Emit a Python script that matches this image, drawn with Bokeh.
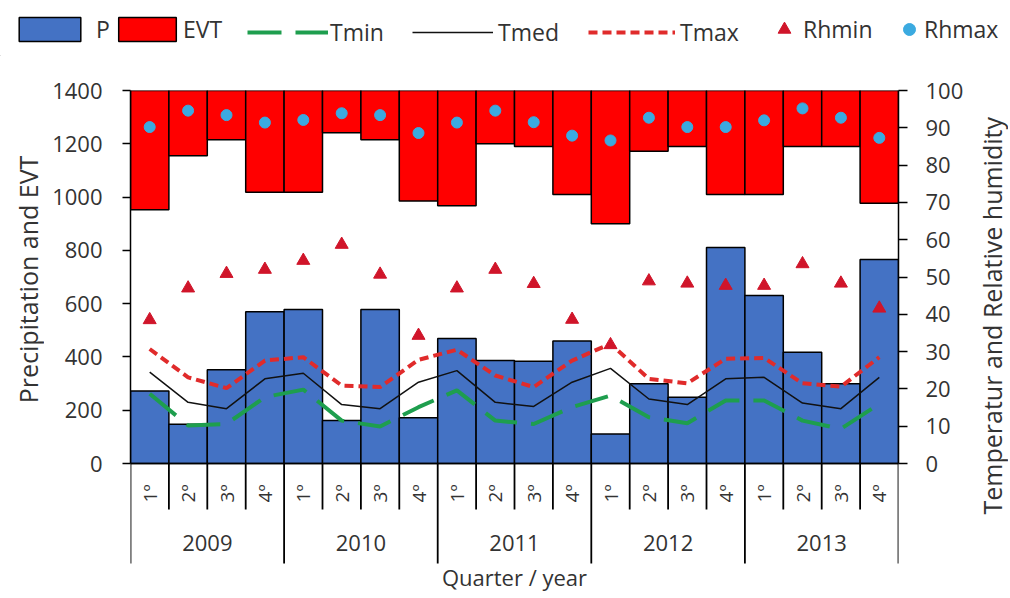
import math
from bokeh.plotting import figure
from bokeh.layouts import column, row
from bokeh.models import Range1d, LinearAxis, FixedTicker, Span, Legend, LegendItem
from bokeh.core.properties import value
from bokeh.embed import file_html
from bokeh.resources import INLINE

# ---------------- data ----------------
years = ["2009", "2010", "2011", "2012", "2013"]
quarters = ["1º", "2º", "3º", "4º"]

P = [272, 147, 352, 570, 578, 161, 578, 172, 469, 387,
     384, 460, 111, 299, 249, 811, 631, 418, 299, 766]
EVT = [448, 245, 185, 382, 382, 159, 185, 415, 433, 200,
       210, 390, 500, 228, 210, 390, 390, 210, 210, 423]
Tmin = [18.7, 10.2, 10.6, 17.8, 19.8, 11.5, 9.9, 15.1, 19.6, 11.5,
        10.6, 15.1, 18.2, 12.4, 10.8, 16.9, 16.9, 11.5, 9.3, 16.0]
Tmed = [24.5, 16.4, 14.7, 22.7, 24.2, 15.8, 14.7, 21.8, 24.9, 16.4,
        15.3, 21.8, 25.5, 17.3, 15.8, 22.7, 23.1, 16.2, 14.7, 23.1]
Tmax = [30.7, 23.1, 20.2, 27.6, 28.5, 20.9, 20.5, 27.8, 30.5, 23.6,
        20.5, 27.6, 32.1, 22.7, 21.5, 28.1, 28.3, 21.5, 20.6, 28.5]
Rhmin = [38.5, 47.0, 50.9, 52.0, 54.4, 58.7, 50.7, 34.3, 47.0, 52.0,
         48.2, 38.6, 31.8, 48.9, 48.3, 47.7, 47.7, 53.5, 48.3, 41.6]
Rhmax = [90.2, 94.6, 93.4, 91.4, 92.1, 93.9, 93.4, 88.6, 91.4, 94.6,
         91.5, 87.9, 86.6, 92.7, 90.2, 90.2, 92.0, 95.2, 92.7, 87.3]

left_ticks = list(range(0, 1401, 200))
right_ticks = list(range(0, 101, 10))

left_title = "Precipitation and EVT"
right_title = "Temperatur  and Relative humidity"
x_title = "Quarter / year"

# ---------------- styles ----------------
FONT = "Open Sans"
TXT = "#333333"
S_P = dict(fill_color="#4472C4", line_color="black", line_width=1.5)
S_EVT = dict(fill_color="#FF0000", line_color="black", line_width=1.5)
S_TMIN = dict(line_color="#1E9E4E", line_width=4, line_dash="34 14")
S_TMED = dict(line_color="#111111", line_width=1.5)
S_TMAX = dict(line_color="#E02B2B", line_width=4, line_dash="9 5")
S_RHMIN = dict(marker="triangle", fill_color="#D0152A", line_color="#D0152A")
S_RHMAX = dict(marker="circle", fill_color="#3BAAE0", line_color="#3BAAE0")

# ---------------- layout ----------------
W = 1008
H_TOP = 56
H_MAIN = 540
W_L, W_R = 44, 38                    # side strips holding the axis titles
W_P = W - W_L - W_R
BL, BR, BT = 130 - W_L, 72, 34
zero_px = 133                        # pixels from frame bottom up to the zero line
scale_px = 373                       # pixels between 0 and the top tick
top_l, top_r = left_ticks[-1], right_ticks[-1]
px_to_l = top_l / scale_px
ymin_l = -zero_px * px_to_l
ymin_r = -zero_px * top_r / scale_px

n = len(P)
xs = [i + 0.5 for i in range(n)]


def strip(w, h):
    f = figure(width=w, height=h, x_range=Range1d(0, w), y_range=Range1d(0, h),
               output_backend="svg", toolbar_location=None,
               x_axis_location=None, y_axis_location=None,
               min_border=0, min_border_left=0, min_border_right=0,
               min_border_top=0, min_border_bottom=0)
    f.outline_line_color = None
    f.grid.visible = False
    return f


# ---------------- main chart ----------------
p = figure(width=W_P, height=H_MAIN, x_range=Range1d(0, n), y_range=Range1d(ymin_l, top_l),
           output_backend="svg", toolbar_location=None, x_axis_location=None,
           min_border_left=BL, min_border_right=BR, min_border_top=BT, min_border_bottom=0)
p.extra_y_ranges = {"right": Range1d(ymin_r, top_r)}
p.outline_line_color = None
p.grid.visible = False


def style_axis(a, tick_out, standoff):
    a.major_label_text_font = FONT
    a.major_label_text_font_size = "22px"
    a.major_label_text_color = TXT
    a.major_label_standoff = standoff
    a.major_tick_out = tick_out
    a.major_tick_in = 0
    a.minor_tick_out = 0
    a.minor_tick_in = 0
    a.axis_line_color = "black"
    a.axis_line_width = 1.5
    a.major_tick_line_color = "black"
    a.major_tick_line_width = 1.5


ax = p.yaxis[0]
ax.ticker = FixedTicker(ticks=left_ticks)
ax.bounds = (0, top_l)
style_axis(ax, 8, 20)

axr = LinearAxis(y_range_name="right", ticker=FixedTicker(ticks=right_ticks), bounds=(0, top_r))
style_axis(axr, 9, 18)
p.add_layout(axr, "right")

# bars
p.vbar(x=xs, width=1, top=top_l, bottom=[top_l - e for e in EVT], **S_EVT)
p.vbar(x=xs, width=1, top=P, bottom=0, **S_P)

# category table below the axis
sep_x = list(range(n + 1))
q_depth = -46 * px_to_l
y_depth = -100 * px_to_l
sep_y1 = [y_depth if k % 4 == 0 else q_depth for k in sep_x]
p.segment(x0=sep_x, y0=[0] * len(sep_x), x1=sep_x, y1=sep_y1, line_color="black", line_width=1.8)
p.add_layout(Span(location=0, dimension="width", line_color="black", line_width=1.5))

p.text(x=xs, y=[-30 * px_to_l] * n, text=[quarters[i % 4] for i in range(n)],
       angle=math.pi / 2, text_align="center", text_baseline="middle",
       text_font=value(FONT), text_font_size="19px", text_color=TXT)
p.text(x=[4 * j + 2 for j in range(len(years))], y=[-79 * px_to_l] * len(years), text=years,
       text_align="center", text_baseline="middle",
       text_font=value(FONT), text_font_size="22px", text_color=TXT)
p.text(x=[n / 2], y=[-113 * px_to_l], text=[x_title],
       text_align="center", text_baseline="middle",
       text_font=value(FONT), text_font_size="22px", text_color=TXT)

# temperature lines and humidity markers
p.line(xs, Tmin, y_range_name="right", **S_TMIN)
p.line(xs, Tmed, y_range_name="right", **S_TMED)
p.line(xs, Tmax, y_range_name="right", **S_TMAX)
p.scatter(xs, Rhmin, y_range_name="right", size=13, **S_RHMIN)
p.scatter(xs, Rhmax, y_range_name="right", size=11, **S_RHMAX)

# ---------------- axis title strips ----------------
lf = strip(W_L, H_MAIN)
lf.text(x=[27], y=[H_MAIN - (279 - H_TOP)], text=[left_title], angle=math.pi / 2,
        text_align="center", text_baseline="middle",
        text_font=value(FONT), text_font_size="25px", text_color=TXT)
rf = strip(W_R, H_MAIN)
rf.text(x=[991 - (W - W_R)], y=[H_MAIN - (312 - H_TOP)], text=[right_title], angle=math.pi / 2,
        text_align="center", text_baseline="middle",
        text_font=value(FONT), text_font_size="25px", text_color=TXT)

# ---------------- legend strip ----------------
lg = strip(W, H_TOP)

off = [-1000]   # key renderers: single point outside the visible strip
k_p = lg.vbar(x=off, top=[0], width=1, **S_P)
k_evt = lg.vbar(x=off, top=[0], width=1, **S_EVT)
k_tmin = lg.line(x=off, y=[0], **S_TMIN)
k_tmed = lg.line(x=off, y=[0], **S_TMED)
k_tmax = lg.line(x=off, y=[0], **S_TMAX)
k_rhmin = lg.scatter(x=off, y=[0], **S_RHMIN)
k_rhmax = lg.scatter(x=off, y=[0], **S_RHMAX)


def add_leg(r, label, glyph_left, gw, gh, standoff, center_y):
    leg = Legend(items=[LegendItem(label=label, renderers=[r])],
                 location=(glyph_left, H_TOP - center_y - 16),
                 orientation="horizontal", glyph_width=gw, glyph_height=gh,
                 label_standoff=standoff, label_height=32, padding=0, margin=0, spacing=0,
                 border_line_color=None, background_fill_alpha=0,
                 label_text_font=FONT, label_text_font_size="23px", label_text_color=TXT,
                 label_text_baseline="middle")
    lg.add_layout(leg)


add_leg(k_p, "P", 11, 77, 30, 8, 29)
add_leg(k_evt, "EVT", 111, 72, 30, 0, 29)
add_leg(k_tmin, "Tmin", 247, 81, 30, 2, 32)
add_leg(k_tmed, "Tmed", 412, 81, 30, 5, 32)
add_leg(k_tmax, "Tmax", 588, 87, 30, 5, 32)
add_leg(k_rhmin, "Rhmin", 768, 32, 32, 3, 29)
add_leg(k_rhmax, "Rhmax", 894, 30, 30, 0, 29)

for fig in (lg, lf, p, rf):
    if "frame_align" in fig.properties():
        fig.frame_align = False

layout = column(lg, row(lf, p, rf, spacing=0), spacing=0)
open("out.html", "w").write(file_html(layout, INLINE))
